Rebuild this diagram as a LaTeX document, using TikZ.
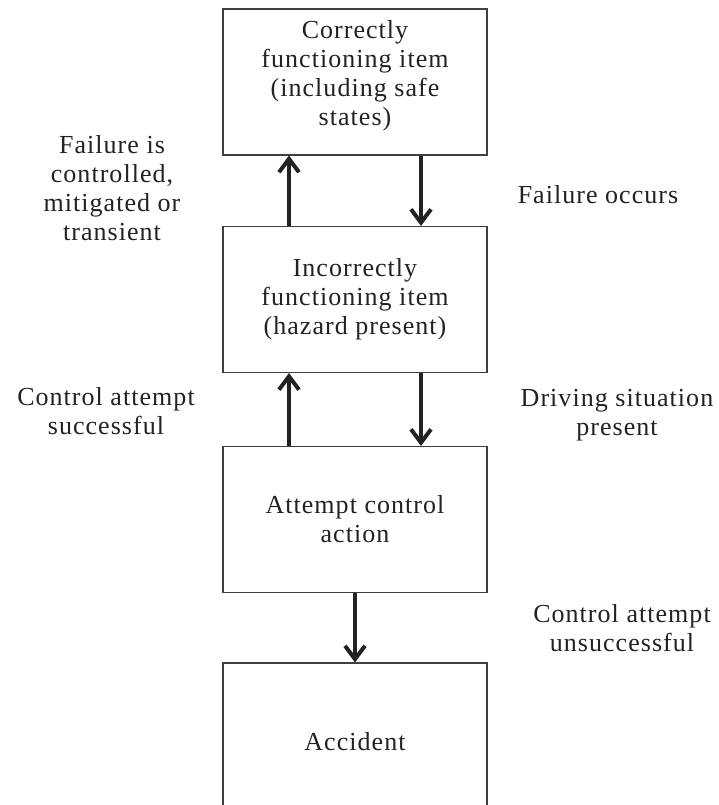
\documentclass[tikz,border=0pt]{standalone}
\usepackage{fontspec}
\setmainfont[LetterSpace=4]{Liberation Serif}
\usetikzlibrary{arrows.meta,calc}
\definecolor{inkgray}{RGB}{34,34,34}
\definecolor{framegray}{RGB}{64,64,64}
\tikzset{every picture/.style={line width=0.75pt}}
\tikzset{
  statebox/.style={draw=framegray, line width=0.8pt, minimum width=198pt, minimum height=109.5pt,
    align=center, text=inkgray, inner sep=0pt, font=\fontsize{19.5}{21.75}\selectfont},
  sidelabel/.style={align=center, text=inkgray, inner sep=0pt, font=\fontsize{19.5}{21.75}\selectfont},
  flow/.style={line width=3pt, draw=inkgray, -{Straight Barb[length=10pt,width=15pt,line width=3pt]}}
}
\begin{document}
\begin{tikzpicture}[x=0.75pt,y=0.75pt,yscale=-1,xscale=1]
\useasboundingbox (0,0) rectangle (718,805);
\clip (0,0) rectangle (718,805);
%Shape: Rectangle
\node[statebox, text depth=13pt] (correct) at (355,82) {Correctly\\functioning item\\(including safe\\states)};
%Shape: Rectangle
\node[statebox] (hazard) at (355,299.5) {Incorrectly\\functioning item\\(hazard present)};
%Shape: Rectangle
\node[statebox] (attempt) at (355,519.5) {Attempt control\\action};
%Shape: Rectangle
\node[statebox, minimum height=118.5pt] (accident) at (355,742) {Accident};

%Straight Lines
\draw[flow] ($(hazard.north)+(-66,0)$) -- ($(correct.south)+(-66,0)$);
%Straight Lines
\draw[flow] ($(correct.south)+(66,0)$) -- ($(hazard.north)+(66,0)$);
%Straight Lines
\draw[flow] ($(attempt.north)+(-66,0)$) -- ($(hazard.south)+(-66,0)$);
%Straight Lines
\draw[flow] ($(hazard.south)+(66,0)$) -- ($(attempt.north)+(66,0)$);
%Straight Lines
\draw[flow] (attempt.south) -- (accident.north);

% Text Node
\node[sidelabel] (recover) at (112,188) {Failure is\\controlled,\\mitigated or\\transient};
% Text Node
\node[sidelabel] (occurs) at (598,195) {Failure occurs};
% Text Node
\node[sidelabel] (success) at (106,411) {Control attempt\\successful};
% Text Node
\node[sidelabel] (driving) at (617,415) {Driving situation\\present};
% Text Node
\node[sidelabel] (fail) at (622,628) {Control attempt\\unsuccessful};
\end{tikzpicture}
\end{document}
